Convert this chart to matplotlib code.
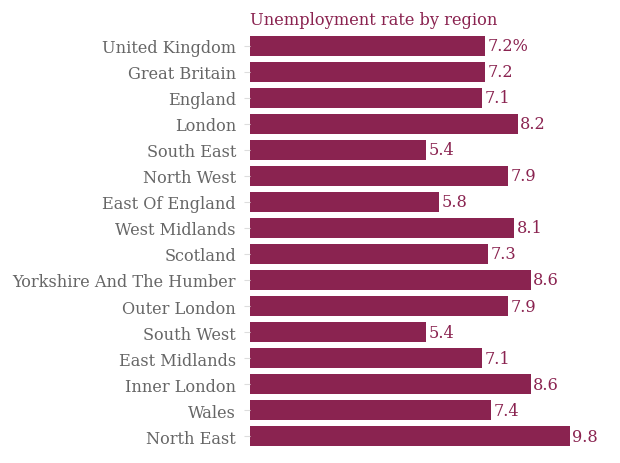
import matplotlib.pyplot as plt

regions = ['United Kingdom', 'Great Britain', 'England', 'London', 'South East',
           'North West', 'East Of England', 'West Midlands', 'Scotland',
           'Yorkshire And The Humber', 'Outer London', 'South West',
           'East Midlands', 'Inner London', 'Wales', 'North East']
rates = [7.2, 7.2, 7.1, 8.2, 5.4, 7.9, 5.8, 8.1, 7.3, 8.6, 7.9, 5.4, 7.1, 8.6, 7.4, 9.8]

bar_color = '#8a2350'
label_color = '#666666'
font = 'DejaVu Serif'

fig = plt.figure(figsize=(6.2, 4.64), dpi=100)
ax = fig.add_axes([0.403, 0.030, 0.553, 0.897])

y = list(range(len(regions)))
ax.barh(y, rates, height=0.77, color=bar_color)
ax.set_ylim(len(regions) - 0.5, -0.5)
ax.set_xlim(0, 10.5)

for i, v in enumerate(rates):
    txt = f'{v:.1f}%' if i == 0 else f'{v:.1f}'
    ax.text(v + 0.08, i, txt, va='center', ha='left', color=bar_color,
            fontsize=11.6, family=font)

ax.set_yticks(y)
ax.set_yticklabels(regions, fontsize=11.6, color=label_color, family=font)
ax.tick_params(axis='y', length=4, color='#dddddd', pad=6)
ax.set_xticks([])
for s in ax.spines.values():
    s.set_visible(False)

fig.text(0.403, 0.955, 'Unemployment rate by region', color=bar_color,
         fontsize=11.7, family=font, ha='left', va='center')

fig.savefig('out.png', dpi=100)
